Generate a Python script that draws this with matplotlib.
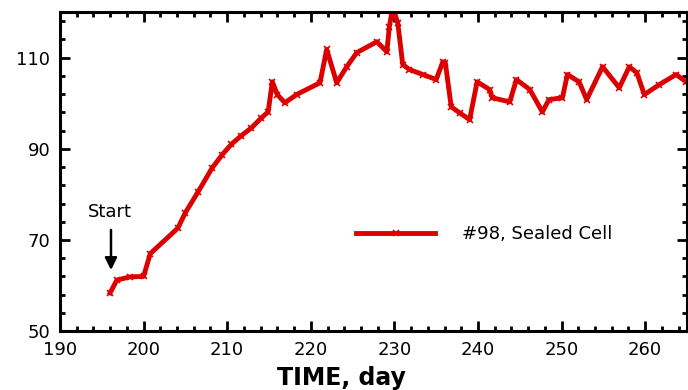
import matplotlib
matplotlib.use("Agg")
import matplotlib.pyplot as plt
from matplotlib.ticker import MultipleLocator

plt.rcParams['font.family'] = ['DejaVu Sans']

# Cell #98 readings
days = [196.0, 196.8, 198.4, 200.0, 200.8, 204.1, 205.0, 206.5, 208.2, 209.4,
        210.5, 211.7, 212.9, 214.1, 214.9, 215.4, 216.0, 216.9, 218.3, 221.1,
        221.9, 223.1, 224.3, 225.5, 227.9, 229.1, 229.4, 229.8, 230.4, 231.0,
        231.8, 233.4, 235.0, 235.8, 236.1, 236.8, 237.8, 239.0, 239.9, 241.4,
        241.7, 243.8, 244.6, 246.2, 247.7, 248.5, 250.1, 250.7, 252.1, 253.0,
        254.9, 256.9, 258.1, 259.0, 259.9, 261.7, 263.7, 264.9]
values = [58.4, 61.2, 61.9, 62.0, 67.0, 72.6, 76.0, 80.5, 85.8, 88.7,
          91.0, 92.9, 94.6, 96.8, 98.1, 104.7, 101.9, 100.1, 101.9, 104.5,
          111.8, 104.5, 108.0, 111.1, 113.5, 111.3, 116.8, 121.0, 117.7, 108.5,
          107.4, 106.3, 105.2, 109.1, 108.8, 99.2, 97.9, 96.4, 104.7, 103.0,
          101.2, 100.3, 105.2, 103.0, 98.1, 100.8, 101.2, 106.3, 104.7, 100.8,
          108.0, 103.4, 108.0, 106.7, 101.9, 104.1, 106.3, 104.7]
series_label = "#98, Sealed Cell"
y_ticks = [50, 70, 90, 110]

fig = plt.figure(figsize=(6.88, 3.90), dpi=100)
ax = fig.add_axes([0.0872, 0.151, 0.9113, 0.818])

ax.plot(days, values, color="#dd0000", lw=3.5, marker="x", ms=4, mew=1.2,
        label=series_label)

ax.set_xlim(190, 265)
ax.set_ylim(50, 120)
ax.xaxis.set_major_locator(MultipleLocator(10))
ax.xaxis.set_minor_locator(MultipleLocator(2))
ax.set_yticks(y_ticks)
ax.yaxis.set_minor_locator(MultipleLocator(4, offset=2))
ax.tick_params(which="both", direction="in", top=True, right=True, width=2,
               labelsize=13, pad=7)
ax.tick_params(which="major", length=7)
ax.tick_params(which="minor", length=3.5)
for sp in ax.spines.values():
    sp.set_linewidth(2.2)

# Start annotation
ax.text(196.0, 76.2, "Start", ha="center", va="center", fontsize=13)
ax.annotate("", xy=(196.1, 63.4), xytext=(196.1, 72.2),
            arrowprops=dict(arrowstyle="-|>", color="black", lw=1.8,
                            mutation_scale=18, shrinkA=0, shrinkB=0))

ax.legend(loc="center left", bbox_to_anchor=(0.446, 0.304), frameon=False,
          fontsize=13, handlelength=4.4, handletextpad=1.5, markerscale=1)

fig.text(0.497, 0.031, "TIME, day", ha="center", va="center", fontsize=17,
         fontweight="bold")

fig.savefig("out.png", dpi=100)
